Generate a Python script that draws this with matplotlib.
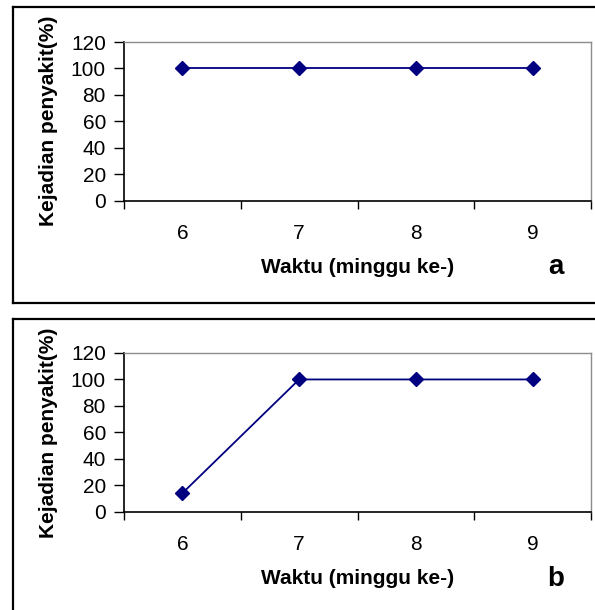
import matplotlib
matplotlib.use("Agg")
import matplotlib.pyplot as plt
from matplotlib.lines import Line2D

plt.rcParams['font.family'] = ['Liberation Sans', 'DejaVu Sans']

weeks = [6, 7, 8, 9]
incidence_a = [100, 100, 100, 100]
incidence_b = [14, 100, 100, 100]
yticks = [0, 20, 40, 60, 80, 100, 120]
ylabel = "Kejadian penyakit(%)"
xlabel = "Waktu (minggu ke-)"
panel_labels = ["a", "b"]

W, H = 595, 610
fig = plt.figure(figsize=(W / 100, H / 100), dpi=100)

def px_axes(x0, y0, x1, y1):
    return fig.add_axes([x0 / W, 1 - y1 / H, (x1 - x0) / W, (y1 - y0) / H])

def frame(y0, y1):
    kw = dict(color='black', lw=1.6, transform=fig.transFigure, clip_on=False)
    x0, x1 = 12.7 / W, 1.05
    fig.add_artist(Line2D([x0, x0], [1 - y0 / H, 1 - y1 / H], **kw))
    fig.add_artist(Line2D([x0, x1], [1 - y0 / H, 1 - y0 / H], **kw))
    if y1 < H:
        fig.add_artist(Line2D([x0, x1], [1 - y1 / H, 1 - y1 / H], **kw))

panels = [
    (incidence_a, 7, 303, 42, 200.5, panel_labels[0]),
    (incidence_b, 319, 640, 353, 511.7, panel_labels[1]),
]

FS = 15

for vals, fy0, fy1, ay0, ay1, lab in panels:
    frame(fy0, fy1)
    ax = px_axes(124, ay0, 591, ay1)
    ax.plot(weeks, vals, color='#000080', lw=1.3, marker='D', markersize=7.5,
            markerfacecolor='#000080', markeredgecolor='#000080')
    ax.set_xlim(weeks[0] - 0.5, weeks[-1] + 0.5)
    ax.set_ylim(0, 120)
    ax.set_yticks(yticks)
    ax.set_yticklabels([str(v) for v in yticks], fontsize=FS)
    ax.set_xticks([w - 0.5 for w in weeks] + [weeks[-1] + 0.5])
    ax.set_xticklabels([])
    ax.set_xticks(weeks, minor=True)
    ax.set_xticklabels([str(w) for w in weeks], minor=True, fontsize=FS)
    ax.tick_params(axis='x', which='major', direction='out', length=6, width=1, color='black')
    ax.tick_params(axis='x', which='minor', length=0, pad=17)
    ax.tick_params(axis='y', direction='out', length=7, width=1, pad=6)
    for s in ['top', 'right']:
        ax.spines[s].set_color('#8c8c8c')
        ax.spines[s].set_linewidth(1.0)
    for s in ['left', 'bottom']:
        ax.spines[s].set_color('black')
        ax.spines[s].set_linewidth(1.2)
    ax.set_ylabel(ylabel, fontsize=FS, fontweight='bold')
    ax.yaxis.set_label_coords(-66 / 467, 0.5)
    fig.text(357.5 / W, 1 - (ay1 + 67) / H, xlabel, fontsize=FS, fontweight='bold',
             ha='center', va='center')
    fig.text(556 / W, 1 - (ay1 + 67) / H, lab, fontsize=20, fontweight='bold',
             ha='center', va='center')

fig.savefig("out.png", dpi=100)
